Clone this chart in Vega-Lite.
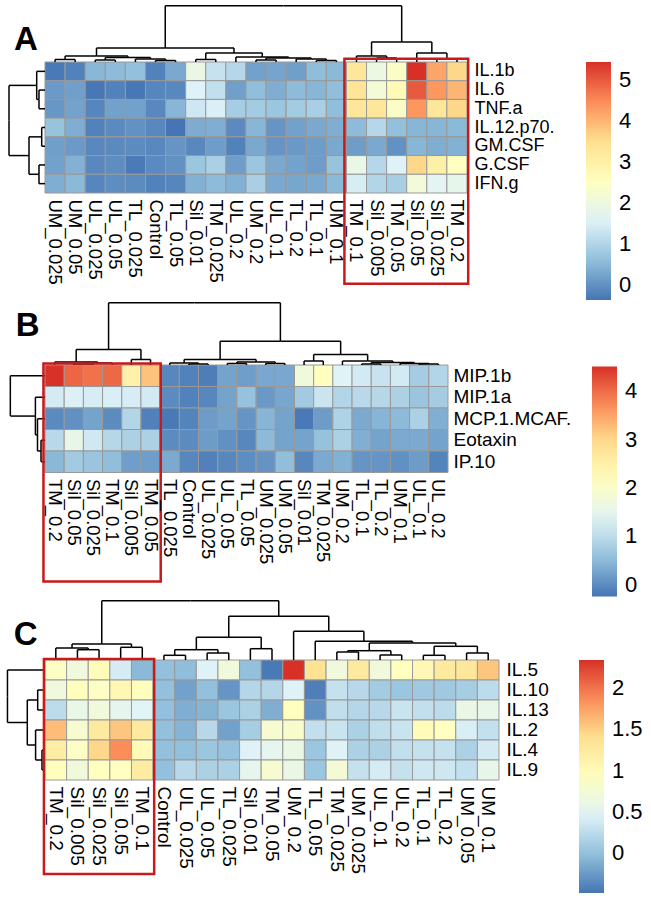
{
"$schema": "https://vega.github.io/schema/vega-lite/v6.json",
"padding": {"left": 6, "top": 5, "right": 0, "bottom": 0},
"spacing": 2,
"background": "white",
"config": {"view": {"stroke": null}, "font": "Liberation Sans"},
"resolve": {"scale": {"color": "independent"}, "legend": {"color": "independent"}},
"vconcat": [
{
"width": 422, "height": 131,
"resolve": {"scale": {"x": "independent", "y": "independent"}},
"layer": [
{
"data": {"values": [
{"s":"UM_0.025","k":"IL.1b","v":-0.32},{"s":"UM_0.05","k":"IL.1b","v":-0.2},{"s":"UL_0.025","k":"IL.1b","v":0.5},{"s":"UL_0.05","k":"IL.1b","v":0.55},{"s":"TL_0.025","k":"IL.1b","v":0.62},{"s":"Control","k":"IL.1b","v":-0.2},{"s":"TL_0.05","k":"IL.1b","v":0.3},{"s":"Sil_0.01","k":"IL.1b","v":1.9},{"s":"TM_0.025","k":"IL.1b","v":1.25},{"s":"UL_0.2","k":"IL.1b","v":1.05},{"s":"UM_0.2","k":"IL.1b","v":0.2},{"s":"UL_0.1","k":"IL.1b","v":0.25},{"s":"TL_0.2","k":"IL.1b","v":0.18},{"s":"TL_0.1","k":"IL.1b","v":0.58},{"s":"UM_0.1","k":"IL.1b","v":0.52},{"s":"TM_0.1","k":"IL.1b","v":3.3},{"s":"Sil_0.005","k":"IL.1b","v":1.95},{"s":"TM_0.05","k":"IL.1b","v":2.4},{"s":"Sil_0.05","k":"IL.1b","v":5.44},{"s":"Sil_0.025","k":"IL.1b","v":4.2},{"s":"TM_0.2","k":"IL.1b","v":3.6},
{"s":"UM_0.025","k":"IL.6","v":0.12},{"s":"UM_0.05","k":"IL.6","v":0.18},{"s":"UL_0.025","k":"IL.6","v":-0.35},{"s":"UL_0.05","k":"IL.6","v":-0.2},{"s":"TL_0.025","k":"IL.6","v":-0.35},{"s":"Control","k":"IL.6","v":-0.15},{"s":"TL_0.05","k":"IL.6","v":-0.12},{"s":"Sil_0.01","k":"IL.6","v":1.55},{"s":"TM_0.025","k":"IL.6","v":1.2},{"s":"UL_0.2","k":"IL.6","v":0.18},{"s":"UM_0.2","k":"IL.6","v":0.6},{"s":"UL_0.1","k":"IL.6","v":0.38},{"s":"TL_0.2","k":"IL.6","v":0.55},{"s":"TL_0.1","k":"IL.6","v":0.48},{"s":"UM_0.1","k":"IL.6","v":0.6},{"s":"TM_0.1","k":"IL.6","v":3.35},{"s":"Sil_0.005","k":"IL.6","v":2.15},{"s":"TM_0.05","k":"IL.6","v":2.7},{"s":"Sil_0.05","k":"IL.6","v":5.0},{"s":"Sil_0.025","k":"IL.6","v":4.35},{"s":"TM_0.2","k":"IL.6","v":4.0},
{"s":"UM_0.025","k":"TNF.a","v":0.08},{"s":"UM_0.05","k":"TNF.a","v":0.22},{"s":"UL_0.025","k":"TNF.a","v":-0.15},{"s":"UL_0.05","k":"TNF.a","v":0.2},{"s":"TL_0.025","k":"TNF.a","v":0.2},{"s":"Control","k":"TNF.a","v":-0.12},{"s":"TL_0.05","k":"TNF.a","v":0.48},{"s":"Sil_0.01","k":"TNF.a","v":1.35},{"s":"TM_0.025","k":"TNF.a","v":1.5},{"s":"UL_0.2","k":"TNF.a","v":0.85},{"s":"UM_0.2","k":"TNF.a","v":0.82},{"s":"UL_0.1","k":"TNF.a","v":0.72},{"s":"TL_0.2","k":"TNF.a","v":0.82},{"s":"TL_0.1","k":"TNF.a","v":0.9},{"s":"UM_0.1","k":"TNF.a","v":0.6},{"s":"TM_0.1","k":"TNF.a","v":3.3},{"s":"Sil_0.005","k":"TNF.a","v":3.3},{"s":"TM_0.05","k":"TNF.a","v":2.4},{"s":"Sil_0.05","k":"TNF.a","v":4.35},{"s":"Sil_0.025","k":"TNF.a","v":3.3},{"s":"TM_0.2","k":"TNF.a","v":3.6},
{"s":"UM_0.025","k":"IL.12.p70.","v":0.68},{"s":"UM_0.05","k":"IL.12.p70.","v":0.38},{"s":"UL_0.025","k":"IL.12.p70.","v":-0.2},{"s":"UL_0.05","k":"IL.12.p70.","v":-0.1},{"s":"TL_0.025","k":"IL.12.p70.","v":0.0},{"s":"Control","k":"IL.12.p70.","v":-0.12},{"s":"TL_0.05","k":"IL.12.p70.","v":-0.37},{"s":"Sil_0.01","k":"IL.12.p70.","v":0.35},{"s":"TM_0.025","k":"IL.12.p70.","v":0.38},{"s":"UL_0.2","k":"IL.12.p70.","v":-0.1},{"s":"UM_0.2","k":"IL.12.p70.","v":0.48},{"s":"UL_0.1","k":"IL.12.p70.","v":0.05},{"s":"TL_0.2","k":"IL.12.p70.","v":0.2},{"s":"TL_0.1","k":"IL.12.p70.","v":0.3},{"s":"UM_0.1","k":"IL.12.p70.","v":0.38},{"s":"TM_0.1","k":"IL.12.p70.","v":0.55},{"s":"Sil_0.005","k":"IL.12.p70.","v":1.05},{"s":"TM_0.05","k":"IL.12.p70.","v":0.62},{"s":"Sil_0.05","k":"IL.12.p70.","v":0.48},{"s":"Sil_0.025","k":"IL.12.p70.","v":0.48},{"s":"TM_0.2","k":"IL.12.p70.","v":0.52},
{"s":"UM_0.025","k":"GM.CSF","v":0.18},{"s":"UM_0.05","k":"GM.CSF","v":0.12},{"s":"UL_0.025","k":"GM.CSF","v":-0.12},{"s":"UL_0.05","k":"GM.CSF","v":-0.1},{"s":"TL_0.025","k":"GM.CSF","v":-0.08},{"s":"Control","k":"GM.CSF","v":-0.12},{"s":"TL_0.05","k":"GM.CSF","v":0.05},{"s":"Sil_0.01","k":"GM.CSF","v":-0.12},{"s":"TM_0.025","k":"GM.CSF","v":0.15},{"s":"UL_0.2","k":"GM.CSF","v":-0.2},{"s":"UM_0.2","k":"GM.CSF","v":0.3},{"s":"UL_0.1","k":"GM.CSF","v":0.05},{"s":"TL_0.2","k":"GM.CSF","v":0.1},{"s":"TL_0.1","k":"GM.CSF","v":0.15},{"s":"UM_0.1","k":"GM.CSF","v":0.3},{"s":"TM_0.1","k":"GM.CSF","v":0.15},{"s":"Sil_0.005","k":"GM.CSF","v":0.3},{"s":"TM_0.05","k":"GM.CSF","v":0.0},{"s":"Sil_0.05","k":"GM.CSF","v":0.48},{"s":"Sil_0.025","k":"GM.CSF","v":0.38},{"s":"TM_0.2","k":"GM.CSF","v":0.42},
{"s":"UM_0.025","k":"G.CSF","v":0.2},{"s":"UM_0.05","k":"G.CSF","v":0.42},{"s":"UL_0.025","k":"G.CSF","v":-0.12},{"s":"UL_0.05","k":"G.CSF","v":-0.05},{"s":"TL_0.025","k":"G.CSF","v":-0.3},{"s":"Control","k":"G.CSF","v":-0.1},{"s":"TL_0.05","k":"G.CSF","v":0.0},{"s":"Sil_0.01","k":"G.CSF","v":0.72},{"s":"TM_0.025","k":"G.CSF","v":0.92},{"s":"UL_0.2","k":"G.CSF","v":0.15},{"s":"UM_0.2","k":"G.CSF","v":0.72},{"s":"UL_0.1","k":"G.CSF","v":0.3},{"s":"TL_0.2","k":"G.CSF","v":0.22},{"s":"TL_0.1","k":"G.CSF","v":0.15},{"s":"UM_0.1","k":"G.CSF","v":0.68},{"s":"TM_0.1","k":"G.CSF","v":1.85},{"s":"Sil_0.005","k":"G.CSF","v":1.05},{"s":"TM_0.05","k":"G.CSF","v":1.55},{"s":"Sil_0.05","k":"G.CSF","v":3.6},{"s":"Sil_0.025","k":"G.CSF","v":3.0},{"s":"TM_0.2","k":"G.CSF","v":2.5},
{"s":"UM_0.025","k":"IFN.g","v":0.38},{"s":"UM_0.05","k":"IFN.g","v":0.52},{"s":"UL_0.025","k":"IFN.g","v":-0.15},{"s":"UL_0.05","k":"IFN.g","v":-0.05},{"s":"TL_0.025","k":"IFN.g","v":-0.08},{"s":"Control","k":"IFN.g","v":-0.2},{"s":"TL_0.05","k":"IFN.g","v":-0.15},{"s":"Sil_0.01","k":"IFN.g","v":0.42},{"s":"TM_0.025","k":"IFN.g","v":0.55},{"s":"UL_0.2","k":"IFN.g","v":0.42},{"s":"UM_0.2","k":"IFN.g","v":0.9},{"s":"UL_0.1","k":"IFN.g","v":0.3},{"s":"TL_0.2","k":"IFN.g","v":0.28},{"s":"TL_0.1","k":"IFN.g","v":0.3},{"s":"UM_0.1","k":"IFN.g","v":0.52},{"s":"TM_0.1","k":"IFN.g","v":1.45},{"s":"Sil_0.005","k":"IFN.g","v":1.0},{"s":"TM_0.05","k":"IFN.g","v":0.88},{"s":"Sil_0.05","k":"IFN.g","v":2.1},{"s":"Sil_0.025","k":"IFN.g","v":1.65},{"s":"TM_0.2","k":"IFN.g","v":1.8}
]},
"mark": {"type": "rect", "stroke": "#999999", "strokeWidth": 1},
"encoding": {
"x": {"field": "s", "type": "nominal", "sort": ["UM_0.025","UM_0.05","UL_0.025","UL_0.05","TL_0.025","Control","TL_0.05","Sil_0.01","TM_0.025","UL_0.2","UM_0.2","UL_0.1","TL_0.2","TL_0.1","UM_0.1","TM_0.1","Sil_0.005","TM_0.05","Sil_0.05","Sil_0.025","TM_0.2"], "scale": {"padding": 0},
 "axis": {"orient": "bottom", "title": null, "labelAngle": 90, "labelAlign": "left", "labelBaseline": "middle", "ticks": false, "domain": false, "labelPadding": 6, "labelFontSize": 18.5, "labelFont": "Liberation Sans", "labelColor": "black", "labelOverlap": false, "labelLimit": 0}},
"y": {"field": "k", "type": "nominal", "sort": ["IL.1b","IL.6","TNF.a","IL.12.p70.","GM.CSF","G.CSF","IFN.g"], "scale": {"padding": 0},
 "axis": {"orient": "right", "title": null, "ticks": false, "domain": false, "labelPadding": 7, "labelFontSize": 18, "labelFont": "Liberation Sans", "labelColor": "black", "labelLimit": 0}},
"color": {"field": "v", "type": "quantitative",
 "scale": {"domain": [-0.37, 0.598, 1.567, 2.535, 3.503, 4.472, 5.44], "range": ["#4575b4","#91bfdb","#e0f3f8","#ffffbf","#fee090","#fc8d59","#d73027"], "interpolate": "rgb"},
 "legend": {"orient": "none", "legendX": 541, "legendY": 0, "direction": "vertical", "gradientLength": 238, "gradientThickness": 25, "values": [0,1,2,3,4,5], "title": null, "labelFontSize": 22, "labelFont": "Liberation Sans", "labelColor": "black", "labelOffset": 8, "gradientStrokeWidth": 0, "format": "~g"}}
}
},
{
"data": {"values": [
{"c":0.5,"h":0,"pc":1,"ph":-0.134},{"c":1.5,"h":0,"pc":1,"ph":-0.134},{"c":2.5,"h":0,"pc":3,"ph":-0.107},{"c":3.5,"h":0,"pc":3,"ph":-0.107},{"c":4.5,"h":0,"pc":5.25,"ph":-0.16},{"c":5.5,"h":0,"pc":6,"ph":-0.08},{"c":6.5,"h":0,"pc":6,"ph":-0.08},{"c":6,"h":-0.08,"pc":5.25,"ph":-0.16},{"c":3,"h":-0.107,"pc":4.125,"ph":-0.241},{"c":5.25,"h":-0.16,"pc":4.125,"ph":-0.241},{"c":1,"h":-0.134,"pc":2.5625,"ph":-0.321},{"c":4.125,"h":-0.241,"pc":2.5625,"ph":-0.321},{"c":7.5,"h":0,"pc":8,"ph":-0.134},{"c":8.5,"h":0,"pc":8,"ph":-0.134},{"c":9.5,"h":0,"pc":10.8125,"ph":-0.267},{"c":10.5,"h":0,"pc":11,"ph":-0.107},{"c":11.5,"h":0,"pc":11,"ph":-0.107},{"c":12.5,"h":0,"pc":13.25,"ph":-0.16},{"c":13.5,"h":0,"pc":14,"ph":-0.08},{"c":14.5,"h":0,"pc":14,"ph":-0.08},{"c":14,"h":-0.08,"pc":13.25,"ph":-0.16},{"c":11,"h":-0.107,"pc":12.125,"ph":-0.214},{"c":13.25,"h":-0.16,"pc":12.125,"ph":-0.214},{"c":12.125,"h":-0.214,"pc":10.8125,"ph":-0.267},{"c":8,"h":-0.134,"pc":9.406,"ph":-0.481},{"c":10.8125,"h":-0.267,"pc":9.406,"ph":-0.481},{"c":2.5625,"h":-0.321,"pc":5.984,"ph":-0.748},{"c":9.406,"h":-0.481,"pc":5.984,"ph":-0.748},{"c":15.5,"h":0,"pc":16.25,"ph":-0.321},{"c":16.5,"h":0,"pc":17,"ph":-0.214},{"c":17.5,"h":0,"pc":17,"ph":-0.214},{"c":17,"h":-0.214,"pc":16.25,"ph":-0.321},{"c":18.5,"h":0,"pc":19.25,"ph":-0.481},{"c":19.5,"h":0,"pc":20,"ph":-0.16},{"c":20.5,"h":0,"pc":20,"ph":-0.16},{"c":20,"h":-0.16,"pc":19.25,"ph":-0.481},{"c":16.25,"h":-0.321,"pc":17.75,"ph":-1.069},{"c":19.25,"h":-0.481,"pc":17.75,"ph":-1.069},{"c":5.984,"h":-0.748,"pc":11.867,"ph":-3.0},{"c":17.75,"h":-1.069,"pc":11.867,"ph":-3.0}
]},
"layer": [
{"mark": {"type": "rule", "color": "black", "strokeWidth": 1.5},
 "encoding": {"x": {"field": "c", "type": "quantitative", "scale": {"domain": [0, 21], "nice": false, "zero": false}, "axis": null},
  "y": {"field": "h", "type": "quantitative", "scale": {"domain": [0, 7], "nice": false, "zero": false, "reverse": true}, "axis": null},
  "y2": {"field": "ph"}}},
{"mark": {"type": "rule", "color": "black", "strokeWidth": 1.5},
 "encoding": {"x": {"field": "c", "type": "quantitative", "scale": {"domain": [0, 21], "nice": false, "zero": false}, "axis": null},
  "x2": {"field": "pc"},
  "y": {"field": "ph", "type": "quantitative", "scale": {"domain": [0, 7], "nice": false, "zero": false, "reverse": true}, "axis": null}}}
]
},
{
"data": {"values": [
{"c":0.5,"h":0,"pc":1.25,"ph":-0.413},{"c":1.5,"h":0,"pc":2,"ph":-0.299},{"c":2.5,"h":0,"pc":2,"ph":-0.299},{"c":2,"h":-0.299,"pc":1.25,"ph":-0.413},{"c":3.5,"h":0,"pc":4,"ph":-0.164},{"c":4.5,"h":0,"pc":4,"ph":-0.164},{"c":5.5,"h":0,"pc":6,"ph":-0.299},{"c":6.5,"h":0,"pc":6,"ph":-0.299},{"c":4,"h":-0.164,"pc":5,"ph":-0.796},{"c":6,"h":-0.299,"pc":5,"ph":-0.796},{"c":1.25,"h":-0.413,"pc":3.125,"ph":-1.791},{"c":5,"h":-0.796,"pc":3.125,"ph":-1.791}
]},
"layer": [
{"mark": {"type": "rule", "color": "black", "strokeWidth": 1.5},
 "encoding": {"y": {"field": "c", "type": "quantitative", "scale": {"domain": [0, 7], "nice": false, "zero": false, "reverse": true}, "axis": null},
  "x": {"field": "h", "type": "quantitative", "scale": {"domain": [0, 21], "nice": false, "zero": false}, "axis": null},
  "x2": {"field": "ph"}}},
{"mark": {"type": "rule", "color": "black", "strokeWidth": 1.5},
 "encoding": {"y": {"field": "c", "type": "quantitative", "scale": {"domain": [0, 7], "nice": false, "zero": false, "reverse": true}, "axis": null},
  "y2": {"field": "pc"},
  "x": {"field": "ph", "type": "quantitative", "scale": {"domain": [0, 21], "nice": false, "zero": false}, "axis": null}}}
]
},
{
"data": {"values": [{"label": "A"}]},
"layer": [
{"mark": {"type": "rect", "fill": null, "fillOpacity": 0, "stroke": "#c81a1a", "strokeWidth": 2.5},
 "encoding": {"x": {"datum": 14.9, "type": "quantitative", "scale": {"domain": [0, 21], "nice": false, "zero": false}, "axis": null},
  "x2": {"datum": 21.06},
  "y": {"datum": -0.176, "type": "quantitative", "scale": {"domain": [0, 7], "nice": false, "zero": false, "reverse": true}, "axis": null},
  "y2": {"datum": 11.85}}},
{"mark": {"type": "text", "fontSize": 33, "fontWeight": "bold", "font": "Liberation Sans", "align": "left", "baseline": "alphabetic", "color": "black"},
 "encoding": {"text": {"field": "label"},
  "x": {"datum": -1.54, "type": "quantitative", "scale": {"domain": [0, 21], "nice": false, "zero": false}, "axis": null},
  "y": {"datum": -0.657, "type": "quantitative", "scale": {"domain": [0, 7], "nice": false, "zero": false, "reverse": true}, "axis": null}}}
]
}
]
},
{
"width": 403, "height": 107.5,
"resolve": {"scale": {"x": "independent", "y": "independent"}},
"layer": [
{
"data": {"values": [
{"s":"TM_0.2","k":"MIP.1b","v":4.5},{"s":"Sil_0.05","k":"MIP.1b","v":4.05},{"s":"Sil_0.025","k":"MIP.1b","v":3.95},{"s":"TM_0.1","k":"MIP.1b","v":4.03},{"s":"Sil_0.005","k":"MIP.1b","v":2.5},{"s":"TM_0.05","k":"MIP.1b","v":3.2},{"s":"TL_0.025","k":"MIP.1b","v":-0.05},{"s":"Control","k":"MIP.1b","v":-0.1},{"s":"UL_0.025","k":"MIP.1b","v":-0.15},{"s":"UL_0.05","k":"MIP.1b","v":0.25},{"s":"TL_0.05","k":"MIP.1b","v":0.2},{"s":"UM_0.025","k":"MIP.1b","v":0.3},{"s":"UM_0.05","k":"MIP.1b","v":0.3},{"s":"Sil_0.01","k":"MIP.1b","v":1.75},{"s":"TM_0.025","k":"MIP.1b","v":2.15},{"s":"UM_0.2","k":"MIP.1b","v":1.35},{"s":"TL_0.1","k":"MIP.1b","v":1.2},{"s":"TL_0.2","k":"MIP.1b","v":1.1},{"s":"UM_0.1","k":"MIP.1b","v":1.2},{"s":"UL_0.1","k":"MIP.1b","v":0.75},{"s":"UL_0.2","k":"MIP.1b","v":0.88},
{"s":"TM_0.2","k":"MIP.1a","v":1.22},{"s":"Sil_0.05","k":"MIP.1a","v":1.3},{"s":"Sil_0.025","k":"MIP.1a","v":1.25},{"s":"TM_0.1","k":"MIP.1a","v":1.27},{"s":"Sil_0.005","k":"MIP.1a","v":1.25},{"s":"TM_0.05","k":"MIP.1a","v":1.2},{"s":"TL_0.025","k":"MIP.1a","v":0.0},{"s":"Control","k":"MIP.1a","v":-0.1},{"s":"UL_0.025","k":"MIP.1a","v":-0.05},{"s":"UL_0.05","k":"MIP.1a","v":0.25},{"s":"TL_0.05","k":"MIP.1a","v":0.6},{"s":"UM_0.025","k":"MIP.1a","v":0.15},{"s":"UM_0.05","k":"MIP.1a","v":0.28},{"s":"Sil_0.01","k":"MIP.1a","v":0.72},{"s":"TM_0.025","k":"MIP.1a","v":1.12},{"s":"UM_0.2","k":"MIP.1a","v":0.88},{"s":"TL_0.1","k":"MIP.1a","v":0.95},{"s":"TL_0.2","k":"MIP.1a","v":0.92},{"s":"UM_0.1","k":"MIP.1a","v":0.82},{"s":"UL_0.1","k":"MIP.1a","v":0.65},{"s":"UL_0.2","k":"MIP.1a","v":0.75},
{"s":"TM_0.2","k":"MCP.1.MCAF.","v":-0.02},{"s":"Sil_0.05","k":"MCP.1.MCAF.","v":0.05},{"s":"Sil_0.025","k":"MCP.1.MCAF.","v":0.25},{"s":"TM_0.1","k":"MCP.1.MCAF.","v":0.0},{"s":"Sil_0.005","k":"MCP.1.MCAF.","v":0.88},{"s":"TM_0.05","k":"MCP.1.MCAF.","v":-0.12},{"s":"TL_0.025","k":"MCP.1.MCAF.","v":-0.2},{"s":"Control","k":"MCP.1.MCAF.","v":-0.08},{"s":"UL_0.025","k":"MCP.1.MCAF.","v":0.18},{"s":"UL_0.05","k":"MCP.1.MCAF.","v":0.25},{"s":"TL_0.05","k":"MCP.1.MCAF.","v":0.1},{"s":"UM_0.025","k":"MCP.1.MCAF.","v":0.45},{"s":"UM_0.05","k":"MCP.1.MCAF.","v":0.25},{"s":"Sil_0.01","k":"MCP.1.MCAF.","v":-0.2},{"s":"TM_0.025","k":"MCP.1.MCAF.","v":0.18},{"s":"UM_0.2","k":"MCP.1.MCAF.","v":0.85},{"s":"TL_0.1","k":"MCP.1.MCAF.","v":0.32},{"s":"TL_0.2","k":"MCP.1.MCAF.","v":0.45},{"s":"UM_0.1","k":"MCP.1.MCAF.","v":0.5},{"s":"UL_0.1","k":"MCP.1.MCAF.","v":0.82},{"s":"UL_0.2","k":"MCP.1.MCAF.","v":0.38},
{"s":"TM_0.2","k":"Eotaxin","v":0.95},{"s":"Sil_0.05","k":"Eotaxin","v":1.55},{"s":"Sil_0.025","k":"Eotaxin","v":1.17},{"s":"TM_0.1","k":"Eotaxin","v":0.92},{"s":"Sil_0.005","k":"Eotaxin","v":0.82},{"s":"TM_0.05","k":"Eotaxin","v":0.82},{"s":"TL_0.025","k":"Eotaxin","v":0.0},{"s":"Control","k":"Eotaxin","v":0.0},{"s":"UL_0.025","k":"Eotaxin","v":0.18},{"s":"UL_0.05","k":"Eotaxin","v":0.05},{"s":"TL_0.05","k":"Eotaxin","v":-0.05},{"s":"UM_0.025","k":"Eotaxin","v":0.5},{"s":"UM_0.05","k":"Eotaxin","v":0.25},{"s":"Sil_0.01","k":"Eotaxin","v":0.25},{"s":"TM_0.025","k":"Eotaxin","v":0.6},{"s":"UM_0.2","k":"Eotaxin","v":0.82},{"s":"TL_0.1","k":"Eotaxin","v":0.38},{"s":"TL_0.2","k":"Eotaxin","v":0.25},{"s":"UM_0.1","k":"Eotaxin","v":0.32},{"s":"UL_0.1","k":"Eotaxin","v":0.32},{"s":"UL_0.2","k":"Eotaxin","v":0.25},
{"s":"TM_0.2","k":"IP.10","v":0.48},{"s":"Sil_0.05","k":"IP.10","v":0.72},{"s":"Sil_0.025","k":"IP.10","v":0.65},{"s":"TM_0.1","k":"IP.10","v":0.55},{"s":"Sil_0.005","k":"IP.10","v":0.2},{"s":"TM_0.05","k":"IP.10","v":0.2},{"s":"TL_0.025","k":"IP.10","v":0.32},{"s":"Control","k":"IP.10","v":-0.05},{"s":"UL_0.025","k":"IP.10","v":-0.12},{"s":"UL_0.05","k":"IP.10","v":-0.05},{"s":"TL_0.05","k":"IP.10","v":0.02},{"s":"UM_0.025","k":"IP.10","v":0.08},{"s":"UM_0.05","k":"IP.10","v":0.55},{"s":"Sil_0.01","k":"IP.10","v":-0.05},{"s":"TM_0.025","k":"IP.10","v":0.32},{"s":"UM_0.2","k":"IP.10","v":0.4},{"s":"TL_0.1","k":"IP.10","v":0.1},{"s":"TL_0.2","k":"IP.10","v":0.1},{"s":"UM_0.1","k":"IP.10","v":0.05},{"s":"UL_0.1","k":"IP.10","v":0.18},{"s":"UL_0.2","k":"IP.10","v":-0.08}
]},
"mark": {"type": "rect", "stroke": "#999999", "strokeWidth": 1},
"encoding": {
"x": {"field": "s", "type": "nominal", "sort": ["TM_0.2","Sil_0.05","Sil_0.025","TM_0.1","Sil_0.005","TM_0.05","TL_0.025","Control","UL_0.025","UL_0.05","TL_0.05","UM_0.025","UM_0.05","Sil_0.01","TM_0.025","UM_0.2","TL_0.1","TL_0.2","UM_0.1","UL_0.1","UL_0.2"], "scale": {"padding": 0},
 "axis": {"orient": "bottom", "title": null, "labelAngle": 90, "labelAlign": "left", "labelBaseline": "middle", "ticks": false, "domain": false, "labelPadding": 6, "labelFontSize": 18.5, "labelFont": "Liberation Sans", "labelColor": "black", "labelOverlap": false, "labelLimit": 0}},
"y": {"field": "k", "type": "nominal", "sort": ["MIP.1b","MIP.1a","MCP.1.MCAF.","Eotaxin","IP.10"], "scale": {"padding": 0},
 "axis": {"orient": "right", "title": null, "ticks": false, "domain": false, "labelPadding": 5, "labelFontSize": 19, "labelFont": "Liberation Sans", "labelColor": "black", "labelLimit": 0}},
"color": {"field": "v", "type": "quantitative",
 "scale": {"domain": [-0.24, 0.552, 1.343, 2.135, 2.927, 3.718, 4.51], "range": ["#4575b4","#91bfdb","#e0f3f8","#ffffbf","#fee090","#fc8d59","#d73027"], "interpolate": "rgb"},
 "legend": {"orient": "none", "legendX": 547, "legendY": 1.5, "direction": "vertical", "gradientLength": 230, "gradientThickness": 25, "values": [0,1,2,3,4], "title": null, "labelFontSize": 22, "labelFont": "Liberation Sans", "labelColor": "black", "labelOffset": 8, "gradientStrokeWidth": 0, "format": "~g"}}
}
},
{
"data": {"values": [
{"c":0.5,"h":0,"pc":1.625,"ph":-0.14},{"c":1.5,"h":0,"pc":2,"ph":-0.047},{"c":2.5,"h":0,"pc":2,"ph":-0.047},{"c":2,"h":-0.047,"pc":2.75,"ph":-0.093},{"c":3.5,"h":0,"pc":2.75,"ph":-0.093},{"c":2.75,"h":-0.093,"pc":1.625,"ph":-0.14},{"c":4.5,"h":0,"pc":5,"ph":-0.256},{"c":5.5,"h":0,"pc":5,"ph":-0.256},{"c":1.625,"h":-0.14,"pc":3.3125,"ph":-0.721},{"c":5,"h":-0.256,"pc":3.3125,"ph":-0.721},{"c":6.5,"h":0,"pc":7.25,"ph":-0.093},{"c":7.5,"h":0,"pc":8,"ph":-0.047},{"c":8.5,"h":0,"pc":8,"ph":-0.047},{"c":8,"h":-0.047,"pc":7.25,"ph":-0.093},{"c":9.5,"h":0,"pc":10,"ph":-0.07},{"c":10.5,"h":0,"pc":10,"ph":-0.07},{"c":11.5,"h":0,"pc":12,"ph":-0.07},{"c":12.5,"h":0,"pc":12,"ph":-0.07},{"c":10,"h":-0.07,"pc":11,"ph":-0.14},{"c":12,"h":-0.07,"pc":11,"ph":-0.14},{"c":7.25,"h":-0.093,"pc":9.125,"ph":-0.256},{"c":11,"h":-0.14,"pc":9.125,"ph":-0.256},{"c":13.5,"h":0,"pc":14,"ph":-0.186},{"c":14.5,"h":0,"pc":14,"ph":-0.186},{"c":15.5,"h":0,"pc":16.8125,"ph":-0.186},{"c":16.5,"h":0,"pc":17,"ph":-0.047},{"c":17.5,"h":0,"pc":17,"ph":-0.047},{"c":18.5,"h":0,"pc":19.25,"ph":-0.07},{"c":19.5,"h":0,"pc":20,"ph":-0.047},{"c":20.5,"h":0,"pc":20,"ph":-0.047},{"c":20,"h":-0.047,"pc":19.25,"ph":-0.07},{"c":17,"h":-0.047,"pc":18.125,"ph":-0.116},{"c":19.25,"h":-0.07,"pc":18.125,"ph":-0.116},{"c":18.125,"h":-0.116,"pc":16.8125,"ph":-0.186},{"c":14,"h":-0.186,"pc":15.406,"ph":-0.488},{"c":16.8125,"h":-0.186,"pc":15.406,"ph":-0.488},{"c":9.125,"h":-0.256,"pc":12.266,"ph":-1.107},{"c":15.406,"h":-0.488,"pc":12.266,"ph":-1.107},{"c":3.3125,"h":-0.721,"pc":7.789,"ph":-2.893},{"c":12.266,"h":-1.107,"pc":7.789,"ph":-2.893}
]},
"layer": [
{"mark": {"type": "rule", "color": "black", "strokeWidth": 1.5},
 "encoding": {"x": {"field": "c", "type": "quantitative", "scale": {"domain": [0, 21], "nice": false, "zero": false}, "axis": null},
  "y": {"field": "h", "type": "quantitative", "scale": {"domain": [0, 5], "nice": false, "zero": false, "reverse": true}, "axis": null},
  "y2": {"field": "ph"}}},
{"mark": {"type": "rule", "color": "black", "strokeWidth": 1.5},
 "encoding": {"x": {"field": "c", "type": "quantitative", "scale": {"domain": [0, 21], "nice": false, "zero": false}, "axis": null},
  "x2": {"field": "pc"},
  "y": {"field": "ph", "type": "quantitative", "scale": {"domain": [0, 5], "nice": false, "zero": false, "reverse": true}, "axis": null}}}
]
},
{
"data": {"values": [
{"c":0.5,"h":0,"pc":1.4375,"ph":-1.807},{"c":1.5,"h":0,"pc":2.375,"ph":-0.5},{"c":2.5,"h":0,"pc":3.25,"ph":-0.391},{"c":3.5,"h":0,"pc":4,"ph":-0.208},{"c":4.5,"h":0,"pc":4,"ph":-0.208},{"c":4,"h":-0.208,"pc":3.25,"ph":-0.391},{"c":3.25,"h":-0.391,"pc":2.375,"ph":-0.5},{"c":2.375,"h":-0.5,"pc":1.4375,"ph":-1.807}
]},
"layer": [
{"mark": {"type": "rule", "color": "black", "strokeWidth": 1.5},
 "encoding": {"y": {"field": "c", "type": "quantitative", "scale": {"domain": [0, 5], "nice": false, "zero": false, "reverse": true}, "axis": null},
  "x": {"field": "h", "type": "quantitative", "scale": {"domain": [0, 21], "nice": false, "zero": false}, "axis": null},
  "x2": {"field": "ph"}}},
{"mark": {"type": "rule", "color": "black", "strokeWidth": 1.5},
 "encoding": {"y": {"field": "c", "type": "quantitative", "scale": {"domain": [0, 5], "nice": false, "zero": false, "reverse": true}, "axis": null},
  "y2": {"field": "pc"},
  "x": {"field": "ph", "type": "quantitative", "scale": {"domain": [0, 21], "nice": false, "zero": false}, "axis": null}}}
]
},
{
"data": {"values": [{"label": "B"}]},
"layer": [
{"mark": {"type": "rect", "fill": null, "fillOpacity": 0, "stroke": "#c81a1a", "strokeWidth": 2.5},
 "encoding": {"x": {"datum": -0.08, "type": "quantitative", "scale": {"domain": [0, 21], "nice": false, "zero": false}, "axis": null},
  "x2": {"datum": 6.03},
  "y": {"datum": -0.07, "type": "quantitative", "scale": {"domain": [0, 5], "nice": false, "zero": false, "reverse": true}, "axis": null},
  "y2": {"datum": 10.07}}},
{"mark": {"type": "text", "fontSize": 33, "fontWeight": "bold", "font": "Liberation Sans", "align": "left", "baseline": "alphabetic", "color": "black"},
 "encoding": {"text": {"field": "label"},
  "x": {"datum": -1.53, "type": "quantitative", "scale": {"domain": [0, 21], "nice": false, "zero": false}, "axis": null},
  "y": {"datum": -1.326, "type": "quantitative", "scale": {"domain": [0, 5], "nice": false, "zero": false, "reverse": true}, "axis": null}}}
]
}
]
},
{
"width": 454, "height": 120,
"resolve": {"scale": {"x": "independent", "y": "independent"}},
"layer": [
{
"data": {"values": [
{"s":"TM_0.2","k":"IL.5","v":0.9},{"s":"Sil_0.005","k":"IL.5","v":0.7},{"s":"Sil_0.025","k":"IL.5","v":0.98},{"s":"Sil_0.05","k":"IL.5","v":0.4},{"s":"TM_0.1","k":"IL.5","v":-0.05},{"s":"Control","k":"IL.5","v":0.0},{"s":"UL_0.025","k":"IL.5","v":-0.02},{"s":"UL_0.05","k":"IL.5","v":0.45},{"s":"TL_0.025","k":"IL.5","v":0.7},{"s":"Sil_0.01","k":"IL.5","v":0.0},{"s":"TM_0.05","k":"IL.5","v":-0.45},{"s":"UM_0.2","k":"IL.5","v":2.34},{"s":"TL_0.05","k":"IL.5","v":1.35},{"s":"TM_0.025","k":"IL.5","v":0.7},{"s":"UM_0.025","k":"IL.5","v":1.25},{"s":"UL_0.1","k":"IL.5","v":0.7},{"s":"UL_0.2","k":"IL.5","v":0.93},{"s":"TL_0.1","k":"IL.5","v":1.05},{"s":"TL_0.2","k":"IL.5","v":1.25},{"s":"UM_0.05","k":"IL.5","v":1.3},{"s":"UM_0.1","k":"IL.5","v":1.55},
{"s":"TM_0.2","k":"IL.10","v":0.7},{"s":"Sil_0.005","k":"IL.10","v":0.95},{"s":"Sil_0.025","k":"IL.10","v":0.9},{"s":"Sil_0.05","k":"IL.10","v":1.05},{"s":"TM_0.1","k":"IL.10","v":0.95},{"s":"Control","k":"IL.10","v":0.0},{"s":"UL_0.025","k":"IL.10","v":-0.2},{"s":"UL_0.05","k":"IL.10","v":0.0},{"s":"TL_0.025","k":"IL.10","v":-0.28},{"s":"Sil_0.01","k":"IL.10","v":0.2},{"s":"TM_0.05","k":"IL.10","v":0.2},{"s":"UM_0.2","k":"IL.10","v":0.45},{"s":"TL_0.05","k":"IL.10","v":-0.42},{"s":"TM_0.025","k":"IL.10","v":0.3},{"s":"UM_0.025","k":"IL.10","v":0.22},{"s":"UL_0.1","k":"IL.10","v":0.1},{"s":"UL_0.2","k":"IL.10","v":0.05},{"s":"TL_0.1","k":"IL.10","v":0.08},{"s":"TL_0.2","k":"IL.10","v":0.08},{"s":"UM_0.05","k":"IL.10","v":0.12},{"s":"UM_0.1","k":"IL.10","v":0.25},
{"s":"TM_0.2","k":"IL.13","v":0.25},{"s":"Sil_0.005","k":"IL.13","v":0.6},{"s":"Sil_0.025","k":"IL.13","v":0.7},{"s":"Sil_0.05","k":"IL.13","v":0.55},{"s":"TM_0.1","k":"IL.13","v":0.48},{"s":"Control","k":"IL.13","v":0.0},{"s":"UL_0.025","k":"IL.13","v":-0.12},{"s":"UL_0.05","k":"IL.13","v":-0.08},{"s":"TL_0.025","k":"IL.13","v":0.05},{"s":"Sil_0.01","k":"IL.13","v":0.15},{"s":"TM_0.05","k":"IL.13","v":-0.12},{"s":"UM_0.2","k":"IL.13","v":0.93},{"s":"TL_0.05","k":"IL.13","v":-0.3},{"s":"TM_0.025","k":"IL.13","v":0.27},{"s":"UM_0.025","k":"IL.13","v":0.2},{"s":"UL_0.1","k":"IL.13","v":0.22},{"s":"UL_0.2","k":"IL.13","v":0.32},{"s":"TL_0.1","k":"IL.13","v":0.28},{"s":"TL_0.2","k":"IL.13","v":0.25},{"s":"UM_0.05","k":"IL.13","v":0.62},{"s":"UM_0.1","k":"IL.13","v":0.58},
{"s":"TM_0.2","k":"IL.2","v":1.6},{"s":"Sil_0.005","k":"IL.2","v":0.8},{"s":"Sil_0.025","k":"IL.2","v":1.25},{"s":"Sil_0.05","k":"IL.2","v":1.55},{"s":"TM_0.1","k":"IL.2","v":1.25},{"s":"Control","k":"IL.2","v":0.0},{"s":"UL_0.025","k":"IL.2","v":-0.08},{"s":"UL_0.05","k":"IL.2","v":0.22},{"s":"TL_0.025","k":"IL.2","v":-0.2},{"s":"Sil_0.01","k":"IL.2","v":0.12},{"s":"TM_0.05","k":"IL.2","v":0.8},{"s":"UM_0.2","k":"IL.2","v":0.82},{"s":"TL_0.05","k":"IL.2","v":0.28},{"s":"TM_0.025","k":"IL.2","v":0.32},{"s":"UM_0.025","k":"IL.2","v":0.15},{"s":"UL_0.1","k":"IL.2","v":0.27},{"s":"UL_0.2","k":"IL.2","v":0.32},{"s":"TL_0.1","k":"IL.2","v":0.98},{"s":"TL_0.2","k":"IL.2","v":0.92},{"s":"UM_0.05","k":"IL.2","v":0.42},{"s":"UM_0.1","k":"IL.2","v":0.29},
{"s":"TM_0.2","k":"IL.4","v":1.2},{"s":"Sil_0.005","k":"IL.4","v":0.88},{"s":"Sil_0.025","k":"IL.4","v":1.45},{"s":"Sil_0.05","k":"IL.4","v":1.87},{"s":"TM_0.1","k":"IL.4","v":1.0},{"s":"Control","k":"IL.4","v":0.0},{"s":"UL_0.025","k":"IL.4","v":0.0},{"s":"UL_0.05","k":"IL.4","v":0.05},{"s":"TL_0.025","k":"IL.4","v":0.02},{"s":"Sil_0.01","k":"IL.4","v":0.45},{"s":"TM_0.05","k":"IL.4","v":0.55},{"s":"UM_0.2","k":"IL.4","v":0.62},{"s":"TL_0.05","k":"IL.4","v":0.05},{"s":"TM_0.025","k":"IL.4","v":0.45},{"s":"UM_0.025","k":"IL.4","v":0.15},{"s":"UL_0.1","k":"IL.4","v":0.15},{"s":"UL_0.2","k":"IL.4","v":0.28},{"s":"TL_0.1","k":"IL.4","v":0.3},{"s":"TL_0.2","k":"IL.4","v":0.3},{"s":"UM_0.05","k":"IL.4","v":0.15},{"s":"UM_0.1","k":"IL.4","v":0.38},
{"s":"TM_0.2","k":"IL.9","v":0.95},{"s":"Sil_0.005","k":"IL.9","v":0.7},{"s":"Sil_0.025","k":"IL.9","v":0.93},{"s":"Sil_0.05","k":"IL.9","v":0.92},{"s":"TM_0.1","k":"IL.9","v":1.22},{"s":"Control","k":"IL.9","v":0.0},{"s":"UL_0.025","k":"IL.9","v":0.22},{"s":"UL_0.05","k":"IL.9","v":0.15},{"s":"TL_0.025","k":"IL.9","v":0.15},{"s":"Sil_0.01","k":"IL.9","v":0.55},{"s":"TM_0.05","k":"IL.9","v":0.8},{"s":"UM_0.2","k":"IL.9","v":0.62},{"s":"TL_0.05","k":"IL.9","v":0.05},{"s":"TM_0.025","k":"IL.9","v":0.75},{"s":"UM_0.025","k":"IL.9","v":0.3},{"s":"UL_0.1","k":"IL.9","v":0.4},{"s":"UL_0.2","k":"IL.9","v":0.3},{"s":"TL_0.1","k":"IL.9","v":0.35},{"s":"TL_0.2","k":"IL.9","v":0.35},{"s":"UM_0.05","k":"IL.9","v":0.29},{"s":"UM_0.1","k":"IL.9","v":0.58}
]},
"mark": {"type": "rect", "stroke": "#999999", "strokeWidth": 1},
"encoding": {
"x": {"field": "s", "type": "nominal", "sort": ["TM_0.2","Sil_0.005","Sil_0.025","Sil_0.05","TM_0.1","Control","UL_0.025","UL_0.05","TL_0.025","Sil_0.01","TM_0.05","UM_0.2","TL_0.05","TM_0.025","UM_0.025","UL_0.1","UL_0.2","TL_0.1","TL_0.2","UM_0.05","UM_0.1"], "scale": {"padding": 0},
 "axis": {"orient": "bottom", "title": null, "labelAngle": 90, "labelAlign": "left", "labelBaseline": "middle", "ticks": false, "domain": false, "labelPadding": 6, "labelFontSize": 19, "labelFont": "Liberation Sans", "labelColor": "black", "labelOverlap": false, "labelLimit": 0}},
"y": {"field": "k", "type": "nominal", "sort": ["IL.5","IL.10","IL.13","IL.2","IL.4","IL.9"], "scale": {"padding": 0},
 "axis": {"orient": "right", "title": null, "ticks": false, "domain": false, "labelPadding": 7, "labelFontSize": 19, "labelFont": "Liberation Sans", "labelColor": "black", "labelLimit": 0}},
"color": {"field": "v", "type": "quantitative",
 "scale": {"domain": [-0.48, -0.01, 0.46, 0.93, 1.4, 1.87, 2.34], "range": ["#4575b4","#91bfdb","#e0f3f8","#ffffbf","#fee090","#fc8d59","#d73027"], "interpolate": "rgb"},
 "legend": {"orient": "none", "legendX": 534, "legendY": 0, "direction": "vertical", "gradientLength": 233, "gradientThickness": 25, "values": [0,0.5,1,1.5,2], "title": null, "labelFontSize": 22, "labelFont": "Liberation Sans", "labelColor": "black", "labelOffset": 8, "gradientStrokeWidth": 0, "format": "~g"}}
}
},
{
"data": {"values": [
{"c":0.5,"h":0,"pc":1.25,"ph":-0.6},{"c":1.5,"h":0,"pc":2,"ph":-0.515},{"c":2.5,"h":0,"pc":2,"ph":-0.515},{"c":2,"h":-0.515,"pc":1.25,"ph":-0.6},{"c":3.5,"h":0,"pc":4,"ph":-0.635},{"c":4.5,"h":0,"pc":4,"ph":-0.635},{"c":1.25,"h":-0.6,"pc":2.625,"ph":-0.8},{"c":4,"h":-0.635,"pc":2.625,"ph":-0.8},{"c":5.5,"h":0,"pc":6,"ph":-0.235},{"c":6.5,"h":0,"pc":6,"ph":-0.235},{"c":7.5,"h":0,"pc":8,"ph":-0.35},{"c":8.5,"h":0,"pc":8,"ph":-0.35},{"c":6,"h":-0.235,"pc":7,"ph":-0.515},{"c":8,"h":-0.35,"pc":7,"ph":-0.515},{"c":9.5,"h":0,"pc":10,"ph":-0.565},{"c":10.5,"h":0,"pc":10,"ph":-0.565},{"c":7,"h":-0.515,"pc":8.5,"ph":-1.135},{"c":10,"h":-0.565,"pc":8.5,"ph":-1.135},{"c":11.5,"h":0,"pc":13.125,"ph":-1.435},{"c":12.5,"h":0,"pc":14.75,"ph":-0.935},{"c":13.5,"h":0,"pc":14,"ph":-0.4},{"c":14.5,"h":0,"pc":14,"ph":-0.4},{"c":15.5,"h":0,"pc":16,"ph":-0.25},{"c":16.5,"h":0,"pc":16,"ph":-0.25},{"c":14,"h":-0.4,"pc":15,"ph":-0.465},{"c":16,"h":-0.25,"pc":15,"ph":-0.465},{"c":17.5,"h":0,"pc":18,"ph":-0.235},{"c":18.5,"h":0,"pc":18,"ph":-0.235},{"c":19.5,"h":0,"pc":20,"ph":-0.35},{"c":20.5,"h":0,"pc":20,"ph":-0.35},{"c":18,"h":-0.235,"pc":19,"ph":-0.685},{"c":20,"h":-0.35,"pc":19,"ph":-0.685},{"c":15,"h":-0.465,"pc":17,"ph":-0.85},{"c":19,"h":-0.685,"pc":17,"ph":-0.85},{"c":17,"h":-0.85,"pc":14.75,"ph":-0.935},{"c":14.75,"h":-0.935,"pc":13.125,"ph":-1.435},{"c":8.5,"h":-1.135,"pc":10.8125,"ph":-2.185},{"c":13.125,"h":-1.435,"pc":10.8125,"ph":-2.185},{"c":2.625,"h":-0.8,"pc":6.71875,"ph":-2.965},{"c":10.8125,"h":-2.185,"pc":6.71875,"ph":-2.965}
]},
"layer": [
{"mark": {"type": "rule", "color": "black", "strokeWidth": 1.5},
 "encoding": {"x": {"field": "c", "type": "quantitative", "scale": {"domain": [0, 21], "nice": false, "zero": false}, "axis": null},
  "y": {"field": "h", "type": "quantitative", "scale": {"domain": [0, 6], "nice": false, "zero": false, "reverse": true}, "axis": null},
  "y2": {"field": "ph"}}},
{"mark": {"type": "rule", "color": "black", "strokeWidth": 1.5},
 "encoding": {"x": {"field": "c", "type": "quantitative", "scale": {"domain": [0, 21], "nice": false, "zero": false}, "axis": null},
  "x2": {"field": "pc"},
  "y": {"field": "ph", "type": "quantitative", "scale": {"domain": [0, 6], "nice": false, "zero": false, "reverse": true}, "axis": null}}}
]
},
{
"data": {"values": [
{"c":0.5,"h":0,"pc":1.8125,"ph":-1.736},{"c":1.5,"h":0,"pc":2,"ph":-0.338},{"c":2.5,"h":0,"pc":2,"ph":-0.338},{"c":3.5,"h":0,"pc":4.25,"ph":-0.435},{"c":4.5,"h":0,"pc":5,"ph":-0.139},{"c":5.5,"h":0,"pc":5,"ph":-0.139},{"c":5,"h":-0.139,"pc":4.25,"ph":-0.435},{"c":2,"h":-0.338,"pc":3.125,"ph":-0.819},{"c":4.25,"h":-0.435,"pc":3.125,"ph":-0.819},{"c":3.125,"h":-0.819,"pc":1.8125,"ph":-1.736}
]},
"layer": [
{"mark": {"type": "rule", "color": "black", "strokeWidth": 1.5},
 "encoding": {"y": {"field": "c", "type": "quantitative", "scale": {"domain": [0, 6], "nice": false, "zero": false, "reverse": true}, "axis": null},
  "x": {"field": "h", "type": "quantitative", "scale": {"domain": [0, 21], "nice": false, "zero": false}, "axis": null},
  "x2": {"field": "ph"}}},
{"mark": {"type": "rule", "color": "black", "strokeWidth": 1.5},
 "encoding": {"y": {"field": "c", "type": "quantitative", "scale": {"domain": [0, 6], "nice": false, "zero": false, "reverse": true}, "axis": null},
  "y2": {"field": "pc"},
  "x": {"field": "ph", "type": "quantitative", "scale": {"domain": [0, 21], "nice": false, "zero": false}, "axis": null}}}
]
},
{
"data": {"values": [{"label": "C"}]},
"layer": [
{"mark": {"type": "rect", "fill": null, "fillOpacity": 0, "stroke": "#c81a1a", "strokeWidth": 2.5},
 "encoding": {"x": {"datum": -0.05, "type": "quantitative", "scale": {"domain": [0, 21], "nice": false, "zero": false}, "axis": null},
  "x2": {"datum": 5.05},
  "y": {"datum": -0.05, "type": "quantitative", "scale": {"domain": [0, 6], "nice": false, "zero": false, "reverse": true}, "axis": null},
  "y2": {"datum": 10.7}}},
{"mark": {"type": "text", "fontSize": 33, "fontWeight": "bold", "font": "Liberation Sans", "align": "left", "baseline": "alphabetic", "color": "black"},
 "encoding": {"text": {"field": "label"},
  "x": {"datum": -1.45, "type": "quantitative", "scale": {"domain": [0, 21], "nice": false, "zero": false}, "axis": null},
  "y": {"datum": -0.75, "type": "quantitative", "scale": {"domain": [0, 6], "nice": false, "zero": false, "reverse": true}, "axis": null}}}
]
}
]
}
]
}
